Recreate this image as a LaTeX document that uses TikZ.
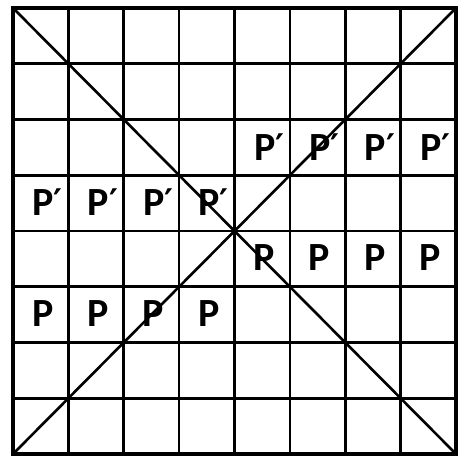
\documentclass[tikz,border=0pt]{standalone}
\usepackage{fontspec}
\setmainfont{Carlito}
\newfontfamily\primefont{DejaVu Sans}
\newcommand{\pp}{P{\primefont\bfseries\fontsize{34}{34}\selectfont\raisebox{2pt}{′}}}
\begin{document}
\begin{tikzpicture}[x=1pt,y=1pt,
  gridline/.style={line width=2.6pt},
  frameline/.style={line width=3.2pt, line join=miter},
  lbl/.style={font=\bfseries\fontsize{40}{40}\selectfont, inner sep=0pt, anchor=center}]
\useasboundingbox (0,0) rectangle (464,459);
% corners
\coordinate (BL) at (13,5);
\coordinate (TR) at (456,451);
\coordinate (TL) at (13,451);
\coordinate (BR) at (456,5);
% grid lines
\foreach \i in {1,...,7}{
  \draw[gridline] ({13+\i*443/8},5) -- ({13+\i*443/8},451);
  \draw[gridline] (13,{5+\i*446/8}) -- (456,{5+\i*446/8});
}
\draw[frameline] (BL) rectangle (TR);
% diagonals
\draw[gridline] (TL) -- (BR);
\draw[gridline] (BL) -- (TR);
% labels: column c (1..8), row r from top (1..8)
\foreach \c in {5,6,7,8}{
  \node[lbl] (pa\c) at ({13+(\c-0.5)*443/8+7},{451-2.5*446/8}) {\pp};
  \node[lbl] (pc\c) at ({13+(\c-0.5)*443/8+2},{451-4.5*446/8+1}) {P};
}
\foreach \c in {1,2,3,4}{
  \node[lbl] (pb\c) at ({13+(\c-0.5)*443/8+7},{451-3.5*446/8+1}) {\pp};
  \node[lbl] (pd\c) at ({13+(\c-0.5)*443/8+2},{451-5.5*446/8+1}) {P};
}
\end{tikzpicture}
\end{document}
